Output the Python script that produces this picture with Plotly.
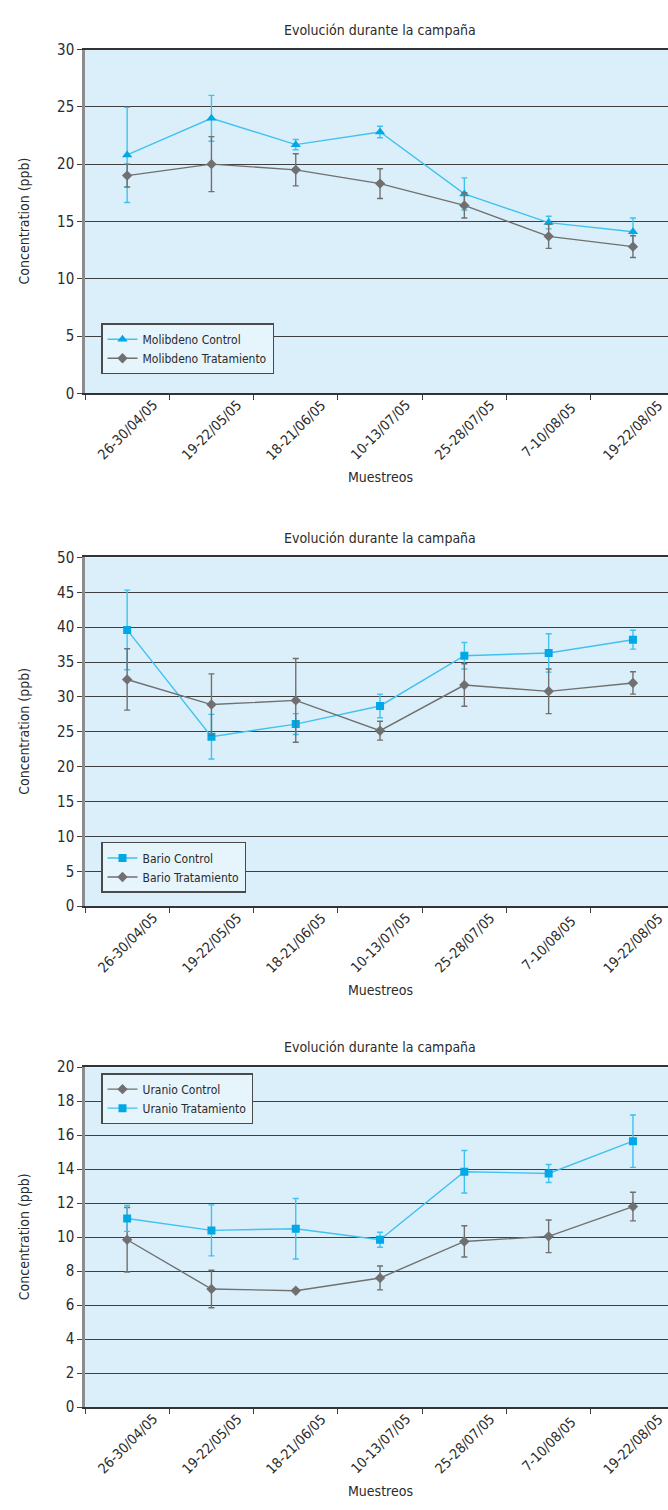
import plotly.graph_objects as go

# Sampling campaigns (x categories)
muestreos = ["26-30/04/05", "19-22/05/05", "18-21/06/05", "10-13/07/05",
             "25-28/07/05", "7-10/08/05", "19-22/08/05"]

# Molibdeno (ppb) with standard deviations
mo_control = [20.8, 24.0, 21.7, 22.8, 17.4, 14.9, 14.1]
mo_control_err = [4.15, 2.0, 0.45, 0.5, 1.4, 0.55, 1.2]
mo_trat = [19.0, 20.0, 19.5, 18.3, 16.4, 13.7, 12.8]
mo_trat_err = [1.0, 2.4, 1.4, 1.3, 1.1, 1.05, 0.95]

# Bario (ppb)
ba_control = [39.6, 24.3, 26.1, 28.7, 35.9, 36.3, 38.2]
ba_control_err = [5.7, 3.2, 1.5, 1.7, 1.9, 2.75, 1.35]
ba_trat = [32.5, 28.9, 29.5, 25.15, 31.7, 30.8, 32.0]
ba_trat_err = [4.4, 4.4, 6.0, 1.35, 3.05, 3.2, 1.6]

# Uranio (ppb)
u_control = [9.85, 6.95, 6.85, 7.6, 9.75, 10.05, 11.8]
u_control_err = [1.9, 1.1, 0.1, 0.7, 0.92, 0.96, 0.84]
u_trat = [11.1, 10.4, 10.5, 9.85, 13.85, 13.75, 15.65]
u_trat_err = [0.76, 1.5, 1.78, 0.44, 1.25, 0.53, 1.54]

y_ranges = [(0, 30, 5), (0, 50, 5), (0, 20, 2)]

W, H = 668, 1510
FONT = "DejaVu Sans Condensed, Liberation Sans Narrow, sans-serif"
TXT = "#2b2b2b"
BLUE_LINE = "#40c2f0"
BLUE_MARK = "#00a8e6"
GREY = "#707070"
BG = "#dbeffa"
GRID = "#3f3f3f"

# panel placement in pixels: (plot top, plot bottom)
panels = [(41, 389), (555, 908), (1071, 1415)]
plot_left = 85
band = 84.3  # pixel width of a category band


def py(p):
    return 1 - p / H


fig = go.Figure()

series = [
    [("Molibdeno Control", mo_control, mo_control_err, BLUE_LINE, BLUE_MARK, "triangle-up", 9),
     ("Molibdeno Tratamiento", mo_trat, mo_trat_err, GREY, GREY, "diamond", 8)],
    [("Bario Control", ba_control, ba_control_err, BLUE_LINE, BLUE_MARK, "square", 8),
     ("Bario Tratamiento", ba_trat, ba_trat_err, GREY, GREY, "diamond", 8)],
    [("Uranio Control", u_control, u_control_err, GREY, GREY, "diamond", 8),
     ("Uranio Tratamiento", u_trat, u_trat_err, BLUE_LINE, BLUE_MARK, "square", 8)],
]

legend_tops = [318, 843, 1077]
x_right = -0.5 + (W - plot_left) / band

annotations = []
for i, (top, bot) in enumerate(panels):
    n = "" if i == 0 else str(i + 1)
    lg = "legend" if i == 0 else f"legend{i + 1}"
    for name, vals, err, lc, mc, sym, sz in series[i]:
        fig.add_trace(go.Scatter(
            x=muestreos, y=vals, name=name, mode="lines+markers",
            xaxis="x" + n, yaxis="y" + n, legend=lg,
            line=dict(color=lc, width=1.4),
            marker=dict(color=mc, symbol=sym, size=sz, line=dict(width=0)),
            error_y=dict(type="data", array=err, visible=True,
                         color=lc, thickness=1.4, width=3),
        ))
    lo, hi, dt = y_ranges[i]
    fig.layout["xaxis" + n] = dict(
        domain=[plot_left / W, 1], anchor="y" + n,
        type="category", categoryorder="array", categoryarray=muestreos,
        range=[-0.5, x_right], showticklabels=False,
        ticks="outside", tickson="boundaries", ticklen=5, tickcolor=GRID,
        showline=True, linecolor="#333333", linewidth=1.5, mirror=True,
        showgrid=False, zeroline=False, fixedrange=True,
    )
    fig.layout["yaxis" + n] = dict(
        domain=[py(bot), py(top)], anchor="x" + n,
        range=[lo, hi], dtick=dt, tick0=0,
        ticks="outside", ticklen=5, tickcolor=GRID,
        tickfont=dict(size=15, color=TXT, family=FONT),
        showline=True, linecolor="#8c8c8c", linewidth=2.5,
        showgrid=True, gridcolor=GRID, gridwidth=1.3,
        zeroline=False, fixedrange=True,
    )
    fig.layout[lg] = dict(
        x=101 / W, y=py(legend_tops[i]), xanchor="left", yanchor="top",
        bgcolor="#e6f4fc", bordercolor="#4a4a4a", borderwidth=1.5,
        font=dict(size=12, color=TXT, family=FONT),
        itemwidth=30, tracegroupgap=0,
    )
    # panel title
    annotations.append(dict(
        text="Evolución durante la campaña", xref="x" + n, yref="paper",
        x=3, y=py(top - 20), xanchor="center", yanchor="middle",
        showarrow=False, font=dict(size=14, color=TXT, family=FONT)))
    # x axis title
    annotations.append(dict(
        text="Muestreos", xref="x" + n, yref="paper",
        x=3, y=py(bot + 85), xanchor="center", yanchor="middle",
        showarrow=False, font=dict(size=14, color=TXT, family=FONT)))
    # y axis title
    annotations.append(dict(
        text="Concentration (ppb)", xref="paper", yref="paper",
        x=24 / W, y=py((top + bot) / 2), xanchor="center", yanchor="middle",
        textangle=-90, showarrow=False,
        font=dict(size=14, color=TXT, family=FONT)))
    # rotated category labels centred under each category
    for c in muestreos:
        annotations.append(dict(
            text=c, xref="x" + n, yref="paper",
            x=c, y=py(bot + 37), xanchor="center", yanchor="middle",
            textangle=-45, showarrow=False,
            font=dict(size=14, color=TXT, family=FONT)))

fig.update_layout(
    width=W, height=H, margin=dict(l=0, r=0, t=0, b=0),
    paper_bgcolor="white", plot_bgcolor=BG,
    annotations=annotations,
    font=dict(family=FONT, color=TXT),
)

fig.write_html("out.html")
